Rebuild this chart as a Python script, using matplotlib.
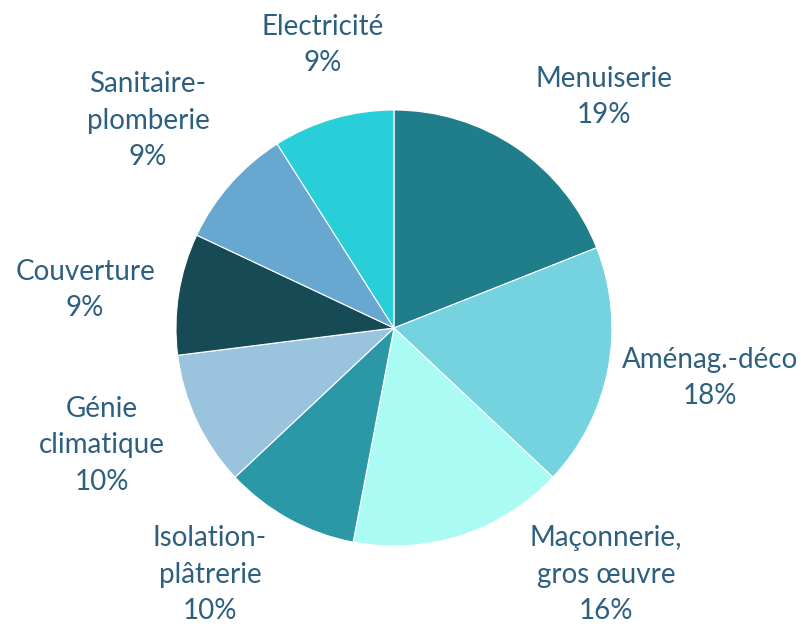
import matplotlib.pyplot as plt

labels = ['Menuiserie', 'Aménag.-déco', 'Maçonnerie,\ngros œuvre', 'Isolation-\nplâtrerie',
          'Génie\nclimatique', 'Couverture', 'Sanitaire-\nplomberie', 'Electricité']
values = [19, 18, 16, 10, 10, 9, 9, 9]
colors = ['#207d8a', '#75d3e0', '#a9fbf3', '#2a98a7', '#9ac4de', '#164a55', '#68a8d0', '#28ced8']

# label centres in pie-radius units
label_pos = [(0.963, 1.060), (1.450, -0.229), (0.972, -1.133), (-0.844, -1.133),
             (-1.339, -0.537), (-1.417, 0.174), (-1.128, 0.950), (-0.326, 1.298)]

plt.rcParams['font.family'] = ['Lato', 'DejaVu Sans']

fig = plt.figure(figsize=(8.05, 6.27), dpi=100)
ax = fig.add_axes([0.2186, 0.1292, 0.5416, 0.6954])
ax.pie(values, colors=colors, startangle=90, counterclock=False, radius=1,
       wedgeprops=dict(edgecolor='white', linewidth=0.8))
ax.set_xlim(-1, 1)
ax.set_ylim(-1, 1)
ax.set_aspect('equal')
ax.axis('off')

for lab, v, (x, y) in zip(labels, values, label_pos):
    ax.text(x, y, '%s\n%d%%' % (lab, v), ha='center', va='center', fontsize=20,
            color='#2d5f7f', linespacing=1.5, clip_on=False)

fig.savefig('out.png', dpi=100)
